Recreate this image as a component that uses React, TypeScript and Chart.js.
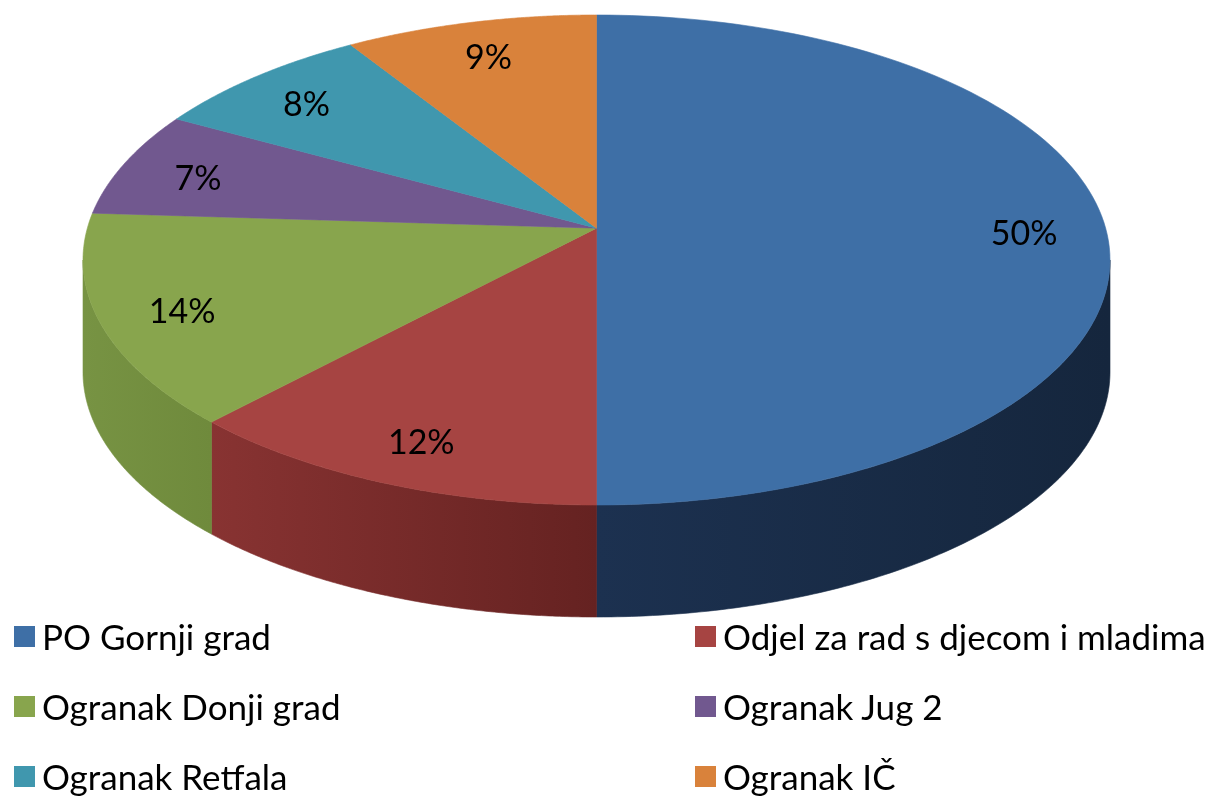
import React, { useEffect, useRef } from "react";
import { Chart, registerables } from "chart.js";

Chart.register(...registerables);

const categories = [
  "PO Gornji grad",
  "Odjel za rad s djecom i mladima",
  "Ogranak Donji grad",
  "Ogranak Jug 2",
  "Ogranak Retfala",
  "Ogranak IČ",
];
const shares = [50, 12, 14, 7, 8, 9];
const percentLabels = ["50%", "12%", "14%", "7%", "8%", "9%"];
const topColors = ["#3E6FA6", "#A64442", "#88A54D", "#71588F", "#4097AE", "#D9823B"];
const sideLeftColors = ["#1C3150", "#883332", "#779343", "#4E3C63", "#2C6878", "#97592A"];
const sideRightColors = ["#15263D", "#652221", "#6F8A3C", "#3E3050", "#225361", "#7A4822"];

const FONT = "Lato, 'Open Sans', sans-serif";
const PERSPECTIVE = 0.13;
const DEPTH = 112;
const LABEL_RADIUS = 0.84;
const LABEL_SHIFT_Y = 6;

function geom(chart: any) {
  const ca = chart.chartArea;
  const p = PERSPECTIVE;
  const halfW = (ca.right - ca.left) / 2;
  const cx = (ca.left + ca.right) / 2;
  const B = halfW * Math.sqrt(1 - p * p);
  const A = ((ca.bottom - ca.top) * (1 - p * p)) / 2;
  const cy = ca.top + A / (1 + p);
  const proj = (theta: number, f: number) => {
    const u = f * Math.cos(theta);
    const v = f * Math.sin(theta);
    const s = 1 / (1 - p * v);
    return [cx + B * u * s, cy + A * v * s];
  };
  return { cx, cy, proj, frontStart: Math.asin(p), frontEnd: Math.PI - Math.asin(p) };
}

const pie3d = {
  id: "pie3d",
  beforeDatasetsDraw(chart: any) {
    const meta = chart.getDatasetMeta(0);
    const ctx = chart.ctx as CanvasRenderingContext2D;
    const g = geom(chart);
    const N = 120;
    // side walls
    meta.data.forEach((arc: any, i: number) => {
      const { startAngle, endAngle } = arc.getProps(["startAngle", "endAngle"], true);
      const a = Math.max(startAngle, g.frontStart);
      const b = Math.min(endAngle, g.frontEnd);
      if (b <= a) return;
      const pts: number[][] = [];
      for (let k = 0; k <= N; k++) pts.push(g.proj(a + ((b - a) * k) / N, 1));
      let minX = Infinity, maxX = -Infinity;
      pts.forEach((q) => { minX = Math.min(minX, q[0]); maxX = Math.max(maxX, q[0]); });
      ctx.save();
      ctx.beginPath();
      ctx.moveTo(pts[0][0], pts[0][1]);
      for (let k = 1; k <= N; k++) ctx.lineTo(pts[k][0], pts[k][1]);
      for (let k = N; k >= 0; k--) ctx.lineTo(pts[k][0], pts[k][1] + DEPTH);
      ctx.closePath();
      const grad = ctx.createLinearGradient(minX, 0, maxX, 0);
      grad.addColorStop(0, sideLeftColors[i]);
      grad.addColorStop(1, sideRightColors[i]);
      ctx.fillStyle = grad;
      ctx.fill();
      ctx.strokeStyle = grad;
      ctx.lineWidth = 0.6;
      ctx.stroke();
      ctx.restore();
    });
    // top faces
    meta.data.forEach((arc: any, i: number) => {
      const { startAngle, endAngle } = arc.getProps(["startAngle", "endAngle"], true);
      ctx.save();
      ctx.beginPath();
      ctx.moveTo(g.cx, g.cy);
      for (let k = 0; k <= N; k++) {
        const q = g.proj(startAngle + ((endAngle - startAngle) * k) / N, 1);
        ctx.lineTo(q[0], q[1]);
      }
      ctx.closePath();
      ctx.fillStyle = topColors[i];
      ctx.fill();
      ctx.strokeStyle = topColors[i];
      ctx.lineWidth = 0.6;
      ctx.stroke();
      ctx.restore();
    });
    return false;
  },
  afterDraw(chart: any) {
    const meta = chart.getDatasetMeta(0);
    const ctx = chart.ctx as CanvasRenderingContext2D;
    const g = geom(chart);
    ctx.save();
    ctx.fillStyle = "#000";
    ctx.font = `34px ${FONT}`;
    ctx.textAlign = "center";
    ctx.textBaseline = "middle";
    meta.data.forEach((arc: any, i: number) => {
      const { startAngle, endAngle } = arc.getProps(["startAngle", "endAngle"], true);
      const q = g.proj((startAngle + endAngle) / 2, LABEL_RADIUS);
      ctx.fillText(percentLabels[i], q[0], q[1] + LABEL_SHIFT_Y);
    });
    ctx.restore();
  },
};

export default function App() {
  const ref = useRef<HTMLCanvasElement>(null);
  useEffect(() => {
    const chart = new Chart(ref.current as HTMLCanvasElement, {
      type: "pie",
      data: {
        labels: categories,
        datasets: [{ data: shares, backgroundColor: topColors, borderWidth: 0 }],
      },
      options: {
        responsive: false,
        animation: false,
        layout: { padding: { left: 83, right: 108, top: 15, bottom: 292 } },
        plugins: { legend: { display: false }, tooltip: { enabled: false } },
      },
      plugins: [pie3d],
    } as any);
    return () => chart.destroy();
  }, []);

  const rowTops = [636, 706, 776];
  return (
    <div style={{ position: "fixed", left: 0, top: 0, width: 1218, height: 797, background: "#fff", overflow: "hidden" }}>
      <canvas ref={ref} width={1218} height={797} style={{ position: "absolute", left: 0, top: 0 }} />
      {categories.map((c, i) => {
        const col = i % 2;
        const row = Math.floor(i / 2);
        const x = col === 0 ? 14 : 695;
        return (
          <div
            key={c}
            style={{
              position: "absolute",
              left: x,
              top: rowTops[row] - 21,
              height: 42,
              display: "flex",
              alignItems: "center",
              fontFamily: FONT,
              fontSize: 35,
              color: "#000",
              whiteSpace: "nowrap",
            }}
          >
            <span style={{ display: "inline-block", width: 21, height: 21, background: topColors[i], marginRight: 7 }} />
            <span>{c}</span>
          </div>
        );
      })}
    </div>
  );
}
